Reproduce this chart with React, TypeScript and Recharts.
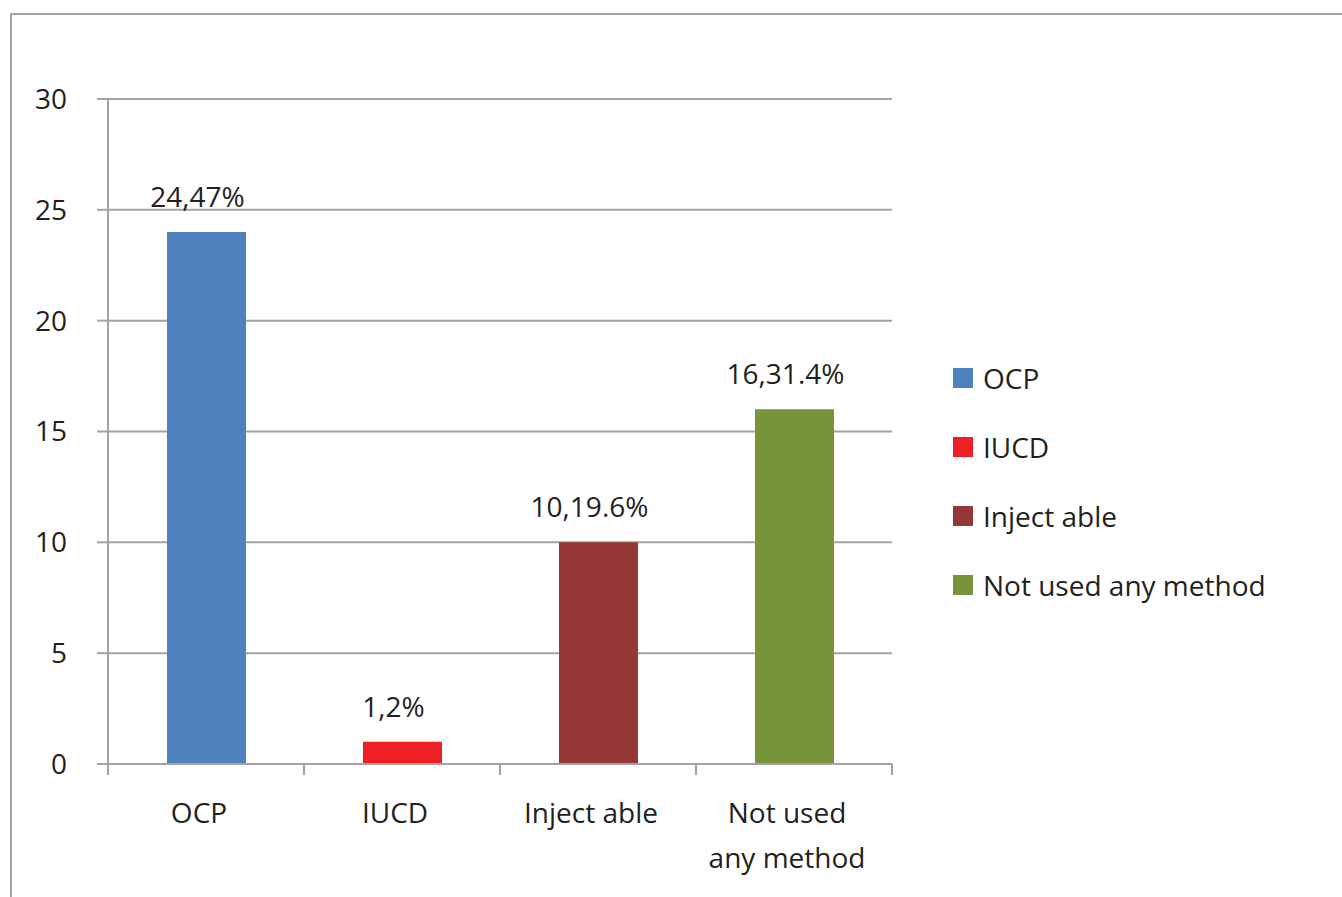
import { Bar, BarChart, CartesianGrid, Cell, LabelList, Legend, XAxis, YAxis } from 'recharts';

const categories = ['OCP', 'IUCD', 'Inject able', 'Not used any method'];
const tickLines = [['OCP'], ['IUCD'], ['Inject able'], ['Not used', 'any method']];
const counts = [24, 1, 10, 16];
const valueLabels = ['24,47%', '1,2%', '10,19.6%', '16,31.4%'];
const colors = ['#4f81bd', '#ee2024', '#953735', '#77933c'];
const yTicks = [0, 5, 10, 15, 20, 25, 30];

const data = categories.map((name, i) => ({ name, count: counts[i], label: valueLabels[i] }));

const FONT = '"Open Sans", sans-serif';
const TEXT = '#231f20';
const GRID = '#a3a3a3';
const FS = 28;

// category labels plus the tick marks on the band edges (Excel style)
function CategoryTick(props: any) {
  const { x, y, payload, index } = props;
  const lines = tickLines[payload.index ?? index] ?? [payload.value];
  const half = payload.offset ?? 0;
  const isLast = (payload.index ?? index) === categories.length - 1;
  return (
    <g>
      <line x1={x - half} x2={x - half} y1={y} y2={y + 11} stroke={GRID} strokeWidth={2} />
      {isLast && <line x1={x + half} x2={x + half} y1={y} y2={y + 11} stroke={GRID} strokeWidth={2} />}
      <text x={x - 7} y={y} textAnchor="middle" fill={TEXT} fontSize={FS} fontFamily={FONT}>
        {lines.map((line, i) => (
          <tspan key={line} x={x - 7} dy={i === 0 ? 59 : 45}>
            {line}
          </tspan>
        ))}
      </text>
    </g>
  );
}

function LegendContent() {
  return (
    <div style={{ fontFamily: FONT, fontSize: FS, color: TEXT }}>
      {categories.map((name, i) => (
        <div key={name} style={{ height: 69, display: 'flex', alignItems: 'center', whiteSpace: 'nowrap' }}>
          <span style={{ width: 20, height: 20, background: colors[i], marginRight: 10, display: 'inline-block' }} />
          <span>{name}</span>
        </div>
      ))}
    </div>
  );
}

export default function App() {
  return (
    <div style={{ position: 'relative', width: 1342, height: 897, overflow: 'hidden', background: '#fff' }}>
      <style>{'body{margin:0}'}</style>
      <div
        style={{
          position: 'absolute',
          left: 10,
          top: 13,
          width: 1400,
          height: 1000,
          borderLeft: `2px solid ${GRID}`,
          borderTop: `2px solid ${GRID}`,
        }}
      />
      <BarChart
        width={1342}
        height={897}
        data={data}
        margin={{ top: 99, right: 450, bottom: 33, left: 0 }}
        style={{ fontFamily: FONT, position: 'absolute', left: 0, top: 0 }}
      >
        <CartesianGrid vertical={false} stroke={GRID} strokeWidth={2} />
        <XAxis
          dataKey="name"
          height={100}
          tickSize={0}
          tickMargin={0}
          tickLine={false}
          axisLine={{ stroke: GRID, strokeWidth: 2 }}
          tick={<CategoryTick />}
          interval={0}
        />
        <YAxis
          width={108}
          domain={[0, 30]}
          ticks={yTicks}
          tickSize={11}
          tickMargin={30}
          axisLine={{ stroke: GRID, strokeWidth: 2 }}
          tickLine={{ stroke: GRID, strokeWidth: 2 }}
          tick={{ fontSize: FS, fill: TEXT, fontFamily: FONT }}
          interval={0}
        />
        <Legend
          layout="vertical"
          align="center"
          verticalAlign="middle"
          content={<LegendContent />}
          wrapperStyle={{ left: 953, top: 343, width: 385 }}
        />
        <Bar dataKey="count" barSize={79} isAnimationActive={false}>
          {data.map((d, i) => (
            <Cell key={d.name} fill={colors[i]} />
          ))}
          <LabelList
            dataKey="label"
            content={(p: any) => (
              <text
                x={p.x + p.width / 2 - 9}
                y={p.y - 25}
                textAnchor="middle"
                fill={TEXT}
                fontSize={FS}
                fontFamily={FONT}
              >
                {p.value}
              </text>
            )}
          />
        </Bar>
      </BarChart>
    </div>
  );
}
